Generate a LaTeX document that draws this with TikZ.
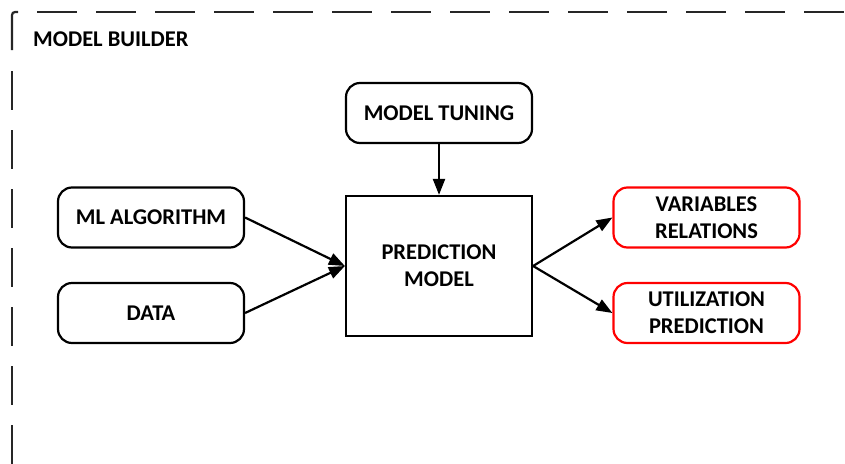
\documentclass[tikz,border=0pt]{standalone}
\usepackage{fontspec}
\setmainfont{Carlito}
\usetikzlibrary{arrows.meta}
\definecolor{boxred}{RGB}{255,0,0}
\begin{document}
\begin{tikzpicture}[x=1pt,y=-1pt,
  txt/.style={font=\fontsize{22.5}{27}\selectfont\bfseries, align=center, text=black},
  rbox/.style={txt, draw=black, line width=2.2pt, rounded corners=14pt, minimum width=186pt, minimum height=60pt, inner sep=0pt},
  redbox/.style={rbox, draw=boxred},
  sqbox/.style={txt, draw=black, line width=2.2pt, minimum width=186pt, minimum height=140pt, inner sep=0pt},
  conn/.style={line width=2.2pt, -{Triangle[length=16pt,width=12pt]}},
  frame/.style={line width=2.2pt, black!85}]
\useasboundingbox (0,0) rectangle (845,463);
% frame
\draw[frame, rounded corners=3pt] (12,50) -- (12,12) -- (18,12);
\draw[frame, dash pattern=on 39pt off 20pt] (12,71) -- (12,470);
\draw[frame, dash pattern=on 40pt off 19pt] (37,12) -- (850,12);
\node[txt, anchor=base west, inner sep=0pt] (lbl) at (33,46) {MODEL BUILDER};
% nodes
\node[rbox] (mt) at (439,113) {MODEL TUNING};
\node[rbox] (ml) at (151,217.5) {ML ALGORITHM};
\node[rbox] (data) at (151,313) {DATA};
\node[sqbox] (pm) at (439,266) {PREDICTION\\MODEL};
\node[redbox] (vr) at (706.5,217.5) {VARIABLES\\RELATIONS};
\node[redbox] (up) at (706.5,313) {UTILIZATION\\PREDICTION};
% connectors
\draw[conn] (mt) -- (pm);
\draw[conn] (ml.east) -- (pm.west);
\draw[conn] (data.east) -- (pm.west);
\draw[conn] (pm.east) -- (vr.west);
\draw[conn] (pm.east) -- (up.west);
\end{tikzpicture}
\end{document}
